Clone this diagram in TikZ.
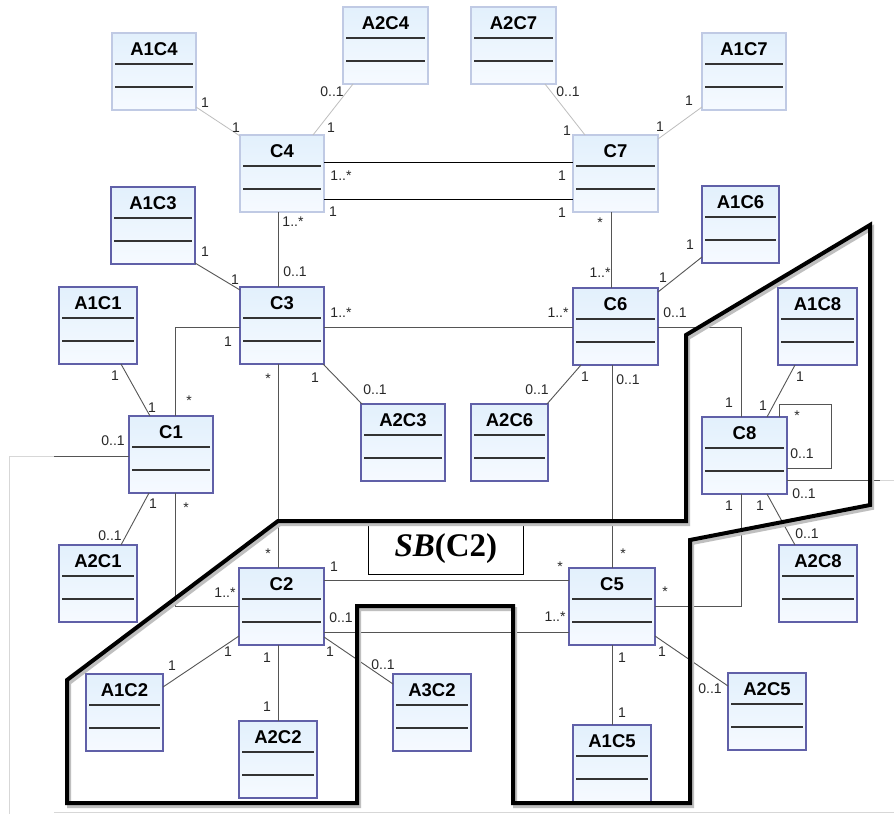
\documentclass[tikz,border=0pt]{standalone}
\usepackage{fontspec}
\setmainfont{Liberation Sans}
\newfontfamily\sbfont{Liberation Serif}
\usetikzlibrary{calc}
\definecolor{lborder}{RGB}{192,202,228}
\definecolor{dborder}{RGB}{96,96,168}
\definecolor{ftop}{RGB}{226,240,252}
\definecolor{fbot}{RGB}{246,250,255}
\definecolor{connc}{RGB}{85,85,85}
\definecolor{lconnc}{RGB}{190,190,190}
\definecolor{edgec}{RGB}{215,215,215}
\definecolor{multc}{RGB}{40,40,40}
\tikzset{
 ubox/.style={draw=dborder, line width=1.1pt, top color=ftop, bottom color=fbot, inner sep=0pt, outer sep=0pt, minimum height=77pt, anchor=north west},
 ulight/.style={draw=lborder},
 udark/.style={},
 utitle/.style={font=\fontsize{18.5}{21}\selectfont\bfseries, inner sep=0pt},
 usep/.style={draw=black!80, line width=1.2pt},
 cline/.style={draw=connc, line width=0.9pt},
 lline/.style={draw=lconnc, line width=0.8pt},
 bline/.style={draw=black, line width=1pt},
 eline/.style={draw=edgec, line width=0.8pt},
 mult/.style={font=\fontsize{14}{16}\selectfont, text=multc, inner sep=0pt},
 sbline/.style={line width=4pt, line join=miter, draw=black},
 sbshadow/.style={line width=4pt, line join=miter, draw=black!25},
}
\newcommand{\umlcls}[5]{%
 \node[ubox,#5,minimum width=#4pt] (#1) at (#2,#3) {};
 \node[utitle] (#1-t) at ($(#1.north)+(0,16)$) {#1};
 \draw[usep] ($(#1.north west)+(3,31)$) -- ($(#1.north east)+(-3,31)$);
 \draw[usep] ($(#1.north west)+(3,54)$) -- ($(#1.north east)+(-3,54)$);
}
\newcommand{\mlab}[4]{\node[mult] (#1) at (#2,#3) {#4};}
\begin{document}
\begin{tikzpicture}[x=1pt,y=-1pt]
\useasboundingbox (0,0) rectangle (894,814);
\fill[white] (0,0) rectangle (894,814);

% ---------- classes ----------
\umlcls{A1C4}{112}{33}{84}{ulight}
\umlcls{A2C4}{343}{7}{85}{ulight}
\umlcls{A2C7}{471}{7}{85}{ulight}
\umlcls{A1C7}{702}{33}{84}{ulight}
\umlcls{C4}{240}{135}{84}{ulight}
\umlcls{C7}{573}{135}{85}{ulight}
\umlcls{A1C3}{111}{187}{84}{udark}
\umlcls{A1C6}{702}{186}{77}{udark}
\umlcls{C3}{240}{287}{84}{udark}
\umlcls{C6}{573}{288}{85}{udark}
\umlcls{A1C1}{59}{287}{78}{udark}
\umlcls{C1}{129}{416}{84}{udark}
\umlcls{A2C3}{361}{404}{84}{udark}
\umlcls{A2C6}{471}{404}{77}{udark}
\umlcls{A1C8}{778}{288}{79}{udark}
\umlcls{C8}{702}{417}{85}{udark}
\umlcls{A2C1}{59}{545}{78}{udark}
\umlcls{C2}{239}{568}{85}{udark}
\umlcls{C5}{569}{568}{86}{udark}
\umlcls{A2C8}{779}{545}{78}{udark}
\umlcls{A1C2}{86}{674}{77}{udark}
\umlcls{A2C2}{239}{721}{78}{udark}
\umlcls{A3C2}{393}{674}{78}{udark}
\umlcls{A1C5}{573}{725}{78}{udark}
\umlcls{A2C5}{728}{673}{78}{udark}

% ---------- connectors ----------
\draw[lline] ($(A1C4.south east)+(0,-3)$) -- ($(C4.north west)+(0,1)$);
\draw[lline] ($(A2C4.south west)+(10,0)$) -- ($(C4.north west)+(73,0)$);
\draw[lline] ($(A2C7.south west)+(74,0)$) -- ($(C7.north west)+(12,0)$);
\draw[lline] ($(A1C7.south west)+(0,-3)$) -- ($(C7.north east)+(0,4)$);
\draw[bline] ($(C4.north east)+(0,27)$) -- ($(C7.north west)+(0,27)$);
\draw[bline] ($(C4.north east)+(0,64)$) -- ($(C7.north west)+(0,64)$);
\draw[cline] ($(C4.south west)+(38,0)$) -- ($(C3.north west)+(38,0)$);
\draw[cline] ($(C7.south west)+(38,0)$) -- ($(C6.north west)+(38,0)$);
\draw[cline] ($(A1C3.south east)+(0,-1)$) -- ($(C3.north west)+(0,3)$);
\draw[cline] ($(A1C6.south west)+(0,-6)$) -- ($(C6.north east)+(0,4)$);
\draw[cline] ($(C3.north east)+(0,40)$) -- ($(C6.north west)+(0,39)$);
\draw[cline] ($(C3.north west)+(0,40)$) -| ($(C1.north west)+(46,0)$);
\draw[cline] ($(A1C1.south west)+(62,0)$) -- ($(C1.north west)+(21,0)$);
\coordinate (cutA) at (54,456);
\coordinate (cutB) at (9,456);
\coordinate (cutC) at (9,814);
\draw[cline] ($(C1.north west)+(0,40)$) -- (cutA);
\draw[eline] (cutA) -- (cutB) -- (cutC);
\coordinate (botA) at (54,812);
\coordinate (botB) at (894,812);
\draw[eline] (botA) -- (botB);
\draw[cline] ($(A2C1.north west)+(62,0)$) -- ($(C1.south west)+(20,0)$);
\draw[cline] ($(C1.south west)+(46,0)$) |- ($(C2.north west)+(0,38)$);
\draw[cline] ($(C3.south west)+(38,0)$) -- ($(C2.north west)+(39,0)$);
\draw[cline] ($(C3.south east)+(-1,0)$) -- ($(A2C3.north west)+(1,0)$);
\draw[cline] ($(C6.south west)+(8,0)$) -- ($(A2C6.north east)+(-1,0)$);
\draw[cline] ($(C6.north east)+(0,39)$) -| ($(C8.north west)+(39,0)$);
\draw[cline] ($(A1C8.south west)+(17,0)$) -- ($(C8.north west)+(65,0)$);
\draw[cline] ($(C8.north west)+(77,0)$) -- ++(0,-13) -- ++(52,0) -- ++(0,64) -- ($(C8.north east)+(0,51)$);
\coordinate (rcutA) at (880,480);
\coordinate (rcutB) at (894,480);
\draw[cline] ($(C8.north east)+(0,63)$) -- (rcutA);
\draw[eline] (rcutA) -- (rcutB);
\draw[cline] ($(C8.south west)+(39,0)$) |- ($(C5.north east)+(0,38)$);
\draw[cline] ($(C8.south west)+(65,0)$) -- ($(A2C8.north west)+(16,0)$);
\draw[cline] ($(C6.south west)+(39,0)$) -- ($(C5.north west)+(43,0)$);
\draw[cline] ($(C2.north east)+(0,12)$) -- ($(C5.north west)+(0,12)$);
\draw[cline] ($(C2.north east)+(0,64)$) -- ($(C5.north west)+(0,64)$);
\draw[cline] ($(C2.north west)+(0,68)$) -- ($(A1C2.north east)+(0,13)$);
\draw[cline] ($(C2.south west)+(39,0)$) -- ($(A2C2.north west)+(39,0)$);
\draw[cline] ($(C2.north east)+(0,69)$) -- ($(A3C2.north west)+(0,10)$);
\draw[cline] ($(C5.south west)+(43,0)$) -- ($(A1C5.north west)+(39,0)$);
\draw[cline] ($(C5.north east)+(0,68)$) -- ($(A2C5.north west)+(0,13)$);

% ---------- multiplicities ----------
\mlab{l1}{205}{103}{1}
\mlab{l2}{236}{128}{1}
\mlab{l3}{332}{92}{0..1}
\mlab{l4}{331}{128}{1}
\mlab{l5}{568}{92}{0..1}
\mlab{l6}{567}{131}{1}
\mlab{l7}{689}{101}{1}
\mlab{l8}{660}{127}{1}
\mlab{l9}{341}{176}{1..*}
\mlab{l10}{562}{176}{1}
\mlab{l11}{333}{212}{1}
\mlab{l12}{562}{213}{1}
\mlab{l13}{293}{222}{1..*}
\mlab{l14}{295}{272}{0..1}
\mlab{l15}{600}{223}{*}
\mlab{l16}{600}{273}{1..*}
\mlab{l17}{205}{252}{1}
\mlab{l18}{235}{280}{1}
\mlab{l19}{690}{245}{1}
\mlab{l20}{663}{278}{1}
\mlab{l21}{341}{313}{1..*}
\mlab{l22}{558}{313}{1..*}
\mlab{l23}{228}{342}{1}
\mlab{l24}{189}{401}{*}
\mlab{l25}{115}{376}{1}
\mlab{l26}{152}{408}{1}
\mlab{l27}{113}{441}{0..1}
\mlab{l28}{153}{504}{1}
\mlab{l29}{110}{536}{0..1}
\mlab{l30}{186}{508}{*}
\mlab{l31}{225}{593}{1..*}
\mlab{l32}{268}{379}{*}
\mlab{l33}{268}{554}{*}
\mlab{l34}{315}{378}{1}
\mlab{l35}{375}{390}{0..1}
\mlab{l36}{537}{390}{0..1}
\mlab{l37}{585}{377}{1}
\mlab{l38}{675}{313}{0..1}
\mlab{l39}{729}{403}{1}
\mlab{l40}{800}{377}{1}
\mlab{l41}{763}{406}{1}
\mlab{l42}{797}{416}{*}
\mlab{l43}{802}{454}{0..1}
\mlab{l44}{804}{494}{0..1}
\mlab{l45}{729}{506}{1}
\mlab{l46}{665}{592}{*}
\mlab{l47}{760}{506}{1}
\mlab{l48}{807}{534}{0..1}
\mlab{l49}{628}{380}{0..1}
\mlab{l50}{623}{554}{*}
\mlab{l51}{334}{567}{1}
\mlab{l52}{560}{567}{*}
\mlab{l53}{341}{618}{0..1}
\mlab{l54}{555}{617}{1..*}
\mlab{l55}{228}{652}{1}
\mlab{l56}{172}{666}{1}
\mlab{l57}{267}{658}{1}
\mlab{l58}{267}{707}{1}
\mlab{l59}{330}{652}{1}
\mlab{l60}{383}{665}{0..1}
\mlab{l61}{622}{658}{1}
\mlab{l62}{622}{713}{1}
\mlab{l63}{662}{652}{1}
\mlab{l64}{710}{689}{0..1}

% ---------- SB(C2) region ----------
\node[draw=black, line width=0.8pt, fill=white, minimum width=155pt, minimum height=52pt, inner sep=0pt, anchor=north west] (sbbox) at (368,522) {};
\node[inner sep=0pt, font=\sbfont\fontsize{33}{36}\selectfont\bfseries] (sbtext) at (sbbox.center) {\textit{SB}(C2)};
\draw[sbshadow] (280,524) -- (688,524) -- (688,338) -- (872,228) -- (872,508) -- (692,543) -- (692,806) -- (515,806) -- (515,609) -- (359,609) -- (359,806) -- (69,806) -- (69,683) -- cycle;
\draw[sbline] (278,521) -- (686,521) -- (686,335) -- (870,225) -- (870,505) -- (690,540) -- (690,803) -- (513,803) -- (513,606) -- (357,606) -- (357,803) -- (67,803) -- (67,680) -- cycle;
\end{tikzpicture}
\end{document}
